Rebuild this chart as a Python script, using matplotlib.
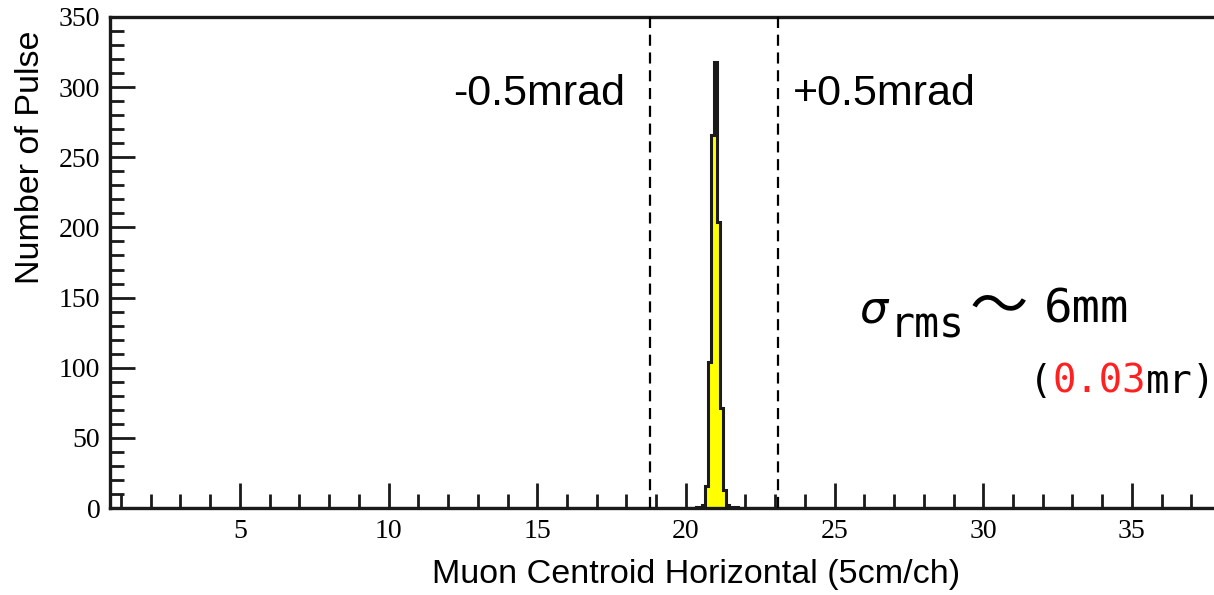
import numpy as np
import matplotlib.pyplot as plt
from matplotlib.ticker import MultipleLocator

# histogram of the horizontal muon centroid (channel = 5 cm)
edges = [20.35, 20.45, 20.55, 20.65, 20.75, 20.85, 20.95, 21.05, 21.15, 21.25, 21.35, 21.45, 21.55, 21.65, 21.75]
counts = [1, 1, 2, 16, 104, 266, 318, 204, 71, 13, 2, 1, 1, 1]

x_range = [0.63, 37.76]
mrad_lines = [18.8, 23.1]
yticks = [0, 50, 100, 150, 200, 250, 300, 350]
xticks = [5, 10, 15, 20, 25, 30, 35]

# empty channels on both sides so the outline runs along the whole axis
all_edges = [x_range[0]] + edges + [x_range[1]]
all_counts = [0] + counts + [0]

fig = plt.figure(figsize=(12.14, 5.95), dpi=100)
ax = fig.add_axes([110/1214, 1 - 508/595, 1 - 110/1214, (508 - 17)/595])

ax.stairs(all_counts, all_edges, fill=True, color='#ffff00', zorder=2)
ax.stairs(all_counts, all_edges, color='#1a1a1a', lw=2.2, zorder=3)

for xv in mrad_lines:
    ax.axvline(xv, color='black', lw=1.6, ls=(0, (5, 3)), zorder=4)

ax.set_xlim(x_range)
ax.set_ylim(0, 350)
ax.set_xticks(xticks)
ax.set_yticks(yticks)
ax.xaxis.set_minor_locator(MultipleLocator(1))
ax.yaxis.set_minor_locator(MultipleLocator(10))
ax.tick_params(which='both', direction='in', width=2, color='#1a1a1a')
ax.tick_params(which='major', length=18)
ax.tick_params(which='minor', length=10)
ax.tick_params(axis='x', pad=8)
ax.tick_params(axis='y', pad=7)
for lab in ax.get_xticklabels() + ax.get_yticklabels():
    lab.set_family('Liberation Serif')
    lab.set_fontsize(20)
for side in ['left', 'bottom', 'top']:
    ax.spines[side].set_linewidth(2.4)
    ax.spines[side].set_color('#1a1a1a')
ax.spines['right'].set_visible(False)

ax.set_xlabel('Muon Centroid Horizontal (5cm/ch)', family='Liberation Sans', fontsize=24.5)
ax.set_ylabel('Number of Pulse', family='Liberation Sans', fontsize=24.5)
ax.xaxis.set_label_coords(0.531, -0.104)
ax.yaxis.set_label_coords(-0.058, 0.715)

ax.text(17.95, 295, '-0.5mrad', family='Liberation Sans', fontsize=31, ha='right', va='center')
ax.text(23.6, 295, '+0.5mrad', family='Liberation Sans', fontsize=31, ha='left', va='center')

# sigma_rms ~ 6mm (0.03mr)
mono = 'DejaVu Sans Mono'
ax.text(25.85, 141, 'σ', family='DejaVu Sans', fontsize=32, ha='left', va='center', style='italic')
ax.text(26.85, 130, 'rms', family=mono, fontsize=30, ha='left', va='center')
ax.text(29.55, 143, '～', family=['Noto Sans CJK JP', 'DejaVu Sans'], fontsize=42, ha='left', va='center')
ax.text(32.05, 141, '6mm', family=mono, fontsize=34, ha='left', va='center')
t1 = ax.text(31.55, 90, '(', family=mono, fontsize=28, ha='left', va='center')
t2 = ax.annotate('0.03', xy=(1, 0), xycoords=t1, family=mono, fontsize=28, color='#ff2020', ha='left', va='bottom')
ax.annotate('mr)', xy=(1, 0), xycoords=t2, family=mono, fontsize=28, ha='left', va='bottom')

fig.savefig('out.png', dpi=100)
